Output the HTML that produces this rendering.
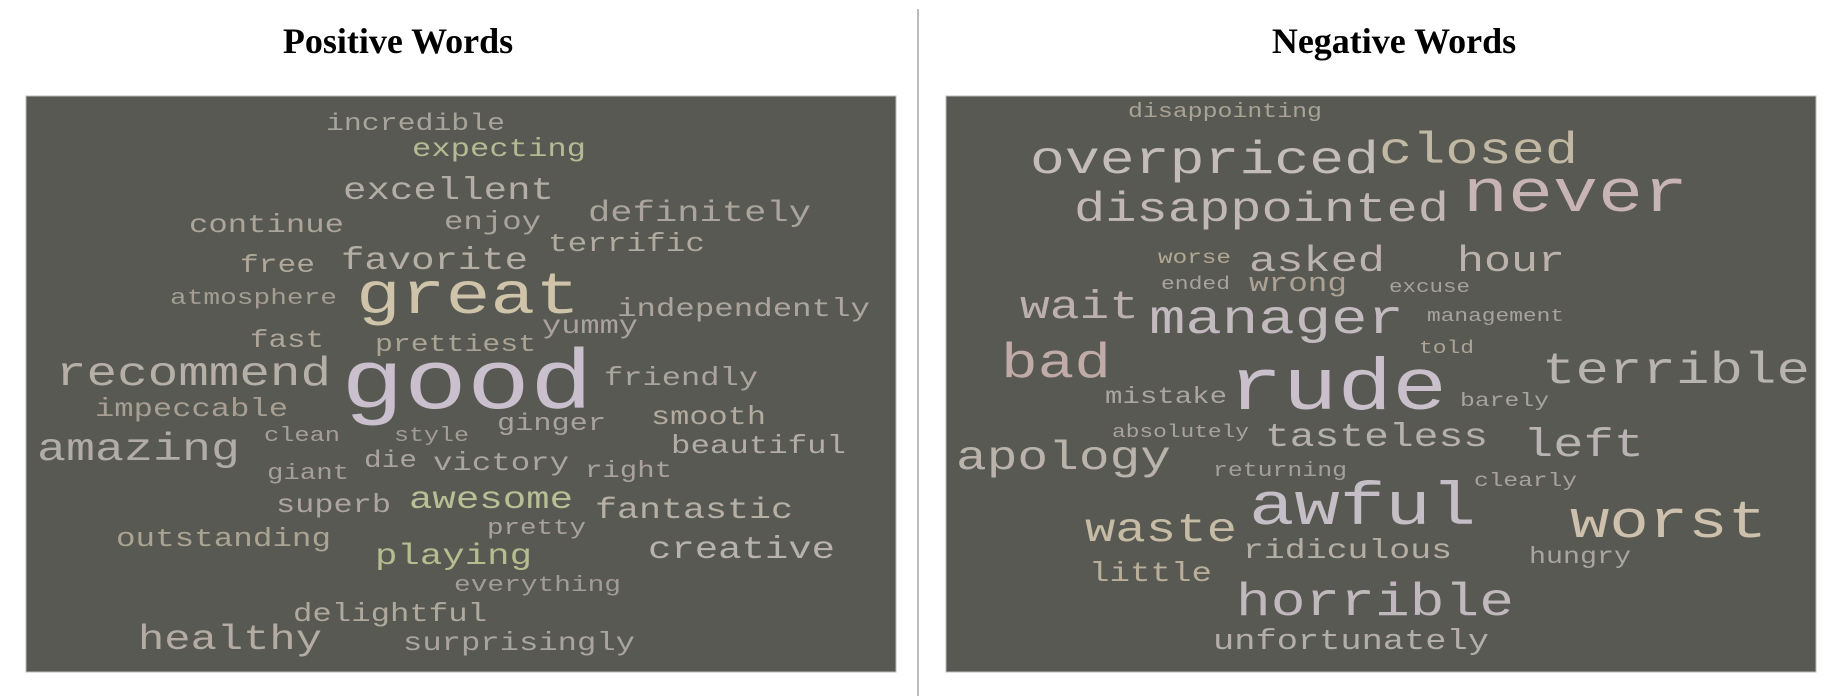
<!DOCTYPE html>
<html><head><meta charset="utf-8"><style>
html,body{margin:0;padding:0;background:#fff;}
svg{display:block;}
</style></head><body>
<svg width="1838" height="696" viewBox="0 0 1838 696" xmlns="http://www.w3.org/2000/svg">
<text x="398" y="53" text-anchor="middle" font-family="Liberation Serif, serif" font-weight="bold" font-size="36">Positive Words</text>
<text x="1394" y="53" text-anchor="middle" font-family="Liberation Serif, serif" font-weight="bold" font-size="36">Negative Words</text>
<line x1="918" y1="9" x2="918" y2="696" stroke="#777" stroke-width="1"/>
<rect x="26" y="96" width="870" height="576" fill="#575952" stroke="#bbb" stroke-width="1"/>
<rect x="946" y="96" width="870" height="576" fill="#575952" stroke="#bbb" stroke-width="1"/>
<g id="pos"></g>
<g id="neg"></g>
</svg>
<script>
const posWords=["incredible","expecting","excellent","continue","enjoy","definitely","terrific","free","favorite","atmosphere","great","independently","fast","prettiest","yummy","recommend","good","friendly","impeccable","clean","style","ginger","smooth","amazing","beautiful","die","victory","giant","right","superb","awesome","fantastic","pretty","outstanding","creative","playing","everything","delightful","healthy","surprisingly"];
const posX0=[326,412,343,189,444,588,548,240,341,170,356,617,250,375,542,56,341,604,95,264,394,497,651,37,671,364,433,267,585,276,409,595,487,116,648,375,454,293,138,403];
const posX1=[505,586,554,344,541,811,705,315,528,337,580,870,324,536,638,331,593,758,288,340,469,606,766,240,846,417,569,349,672,391,573,793,586,331,835,532,621,487,322,635];
const posY=[130,156,199,232,229,221,251,272,269,304,313,316,347,351,333,385,408,385,416,441,441,430,424,460,453,467,470,479,477,512,508,518,534,546,558,564,591,621,649,650];
const posColor=["#a8a39b","#b4bb92","#b3ada5","#aca59b","#a9a39b","#aaa49c","#b0aaa0","#b0a89a","#b5aea4","#a39d93","#cfc4a9","#aba59d","#aea69a","#aba495","#aaa39d","#b6afa8","#c9bfcd","#aba59e","#a79f93","#a59f98","#a29c94","#aaa39d","#b2aa9e","#b1aca6","#b3ada6","#aca59f","#aaa59e","#a59f97","#aaa39d","#aea4a2","#b8bf95","#b5afa6","#a9a29b","#aba493","#b8b2ad","#b6bb90","#a29c96","#b0a99d","#b4aca4","#aaa49e"];
const negWords=["disappointing","overpriced","closed","disappointed","never","worse","asked","hour","ended","wrong","excuse","wait","manager","management","told","bad","terrible","mistake","rude","barely","absolutely","tasteless","left","apology","returning","clearly","awful","worst","waste","ridiculous","hungry","little","horrible","unfortunately"];
const negX0=[1128,1030,1379,1074,1463,1158,1249,1457,1161,1249,1389,1020,1149,1427,1419,1001,1542,1105,1228,1460,1112,1265,1523,956,1213,1474,1249,1570,1085,1243,1529,1089,1236,1213];
const negX1=[1322,1379,1578,1449,1688,1231,1385,1565,1230,1347,1470,1139,1404,1564,1474,1111,1810,1227,1447,1549,1249,1488,1644,1171,1347,1577,1476,1767,1237,1452,1631,1212,1514,1489];
const negY=[117,173,163,221,211,263,271,271,289,291,292,318,333,321,353,377,383,403,409,406,437,446,456,469,476,486,524,537,541,558,563,581,615,649];
const negColor=["#a9a396","#c3bcb9","#c1b8a4","#c2b8b3","#c8b4b2","#b3a893","#bbb2ad","#bbb2ab","#a8a39c","#aba194","#a7a29c","#bcb0ac","#c3bac0","#a8a39c","#aea496","#c0aba8","#b8b3ad","#aba5a3","#c9c0cc","#a9a39e","#a9a39e","#b6b0aa","#bab3b3","#b9b3ac","#a39f99","#a8a29c","#c5bec6","#cdc1ad","#c6bca5","#b4aea5","#aaa59f","#b9ae9a","#c1b8be","#b4aeaa"];
function drawCloud(gid, words, x0s, x1s, ys, colors){
  const g=document.getElementById(gid);
  const NS="http://www.w3.org/2000/svg";
  for(let i=0;i<words.length;i++){
    const t=document.createElementNS(NS,"text");
    const w=x1s[i]-x0s[i];
    const n=words[i].length;
    const fs=w/(n*0.6)*0.8;
    t.setAttribute("x",x0s[i]);
    t.setAttribute("y",ys[i]);
    t.setAttribute("font-family","Liberation Mono, monospace");
    t.setAttribute("font-size",fs.toFixed(1));
    t.setAttribute("textLength",w);
    t.setAttribute("lengthAdjust","spacingAndGlyphs");
    t.setAttribute("fill",colors[i]);
    t.textContent=words[i];
    
    
    g.appendChild(t);
  }
}
drawCloud("pos",posWords,posX0,posX1,posY,posColor);
drawCloud("neg",negWords,negX0,negX1,negY,negColor);
</script>
</body></html>
